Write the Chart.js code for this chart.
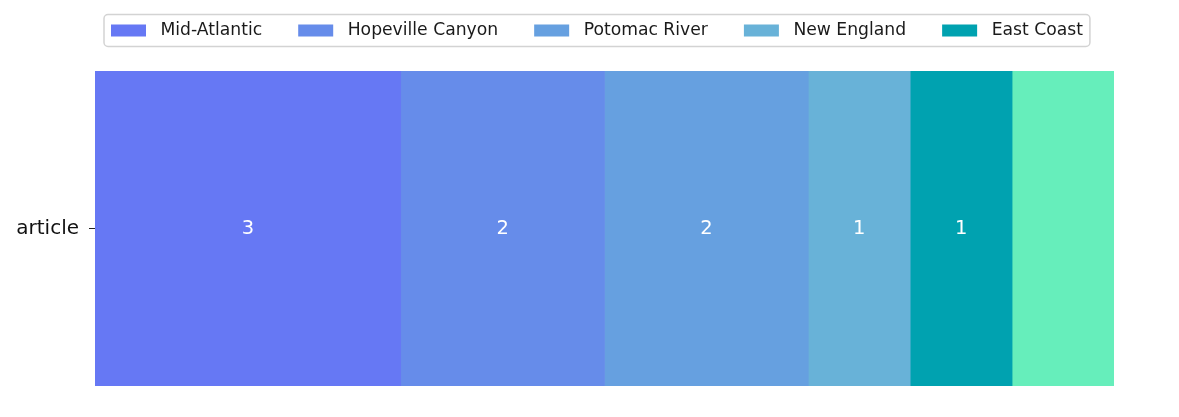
<!DOCTYPE html>
<html>
<head>
<meta charset="utf-8">
<script src="https://cdn.jsdelivr.net/npm/chart.js@4/dist/chart.umd.min.js"></script>
<style>
html,body{margin:0;padding:0;background:#fff;}
#wrap{width:1179px;height:417px;position:relative;}
</style>
</head>
<body>
<div id="wrap"><canvas id="c" width="1179" height="417"></canvas></div>
<script>
const categories = ["article"];
const seriesNames = ["Mid-Atlantic", "Hopeville Canyon", "Potomac River", "New England", "East Coast", ""];
const seriesValues = [3, 2, 2, 1, 1, 1];
const seriesColors = ["#6678F4", "#668CEA", "#66A0E0", "#68B2D8", "#00A2B0", "#66EEBB"];
const showValue = [true, true, true, true, true, false];
const inLegend = [true, true, true, true, true, false];
const xMax = 10;

const FONT = "'DejaVu Sans', sans-serif";

const datasets = seriesNames.map((n, i) => ({
  label: n,
  data: [seriesValues[i]],
  backgroundColor: seriesColors[i],
  borderWidth: 0,
  barPercentage: 1,
  categoryPercentage: 1,
  showValue: showValue[i],
  inLegend: inLegend[i]
}));

const valueLabels = {
  id: 'valueLabels',
  afterDatasetsDraw(chart) {
    const ctx = chart.ctx;
    ctx.save();
    ctx.fillStyle = '#ffffff';
    ctx.font = '19.5px ' + FONT;
    ctx.textAlign = 'center';
    ctx.textBaseline = 'middle';
    chart.data.datasets.forEach((ds, i) => {
      if (!ds.showValue) return;
      const meta = chart.getDatasetMeta(i);
      meta.data.forEach((el, j) => {
        const cx = (el.x + el.base) / 2;
        ctx.fillText(String(ds.data[j]), cx, el.y);
      });
    });
    ctx.restore();
  }
};

const boxLegend = {
  id: 'boxLegend',
  afterDraw(chart) {
    const ctx = chart.ctx;
    ctx.save();
    ctx.font = '17.2px ' + FONT;
    const items = chart.data.datasets.filter(d => d.inLegend);
    const sw = 35, sh = 12, gapSwText = 14.5, gapItem = 36, padL = 7, padR = 7;
    let total = padL + padR;
    items.forEach((d, k) => {
      total += sw + gapSwText + ctx.measureText(d.label).width;
      if (k < items.length - 1) total += gapItem;
    });
    const boxX = 104, boxY = 14.5, boxH = 32;
    const boxW = total;
    ctx.beginPath();
    const r = 4;
    ctx.moveTo(boxX + r, boxY);
    ctx.arcTo(boxX + boxW, boxY, boxX + boxW, boxY + boxH, r);
    ctx.arcTo(boxX + boxW, boxY + boxH, boxX, boxY + boxH, r);
    ctx.arcTo(boxX, boxY + boxH, boxX, boxY, r);
    ctx.arcTo(boxX, boxY, boxX + boxW, boxY, r);
    ctx.closePath();
    ctx.fillStyle = 'rgba(255,255,255,0.8)';
    ctx.fill();
    ctx.strokeStyle = '#d3d3d3';
    ctx.lineWidth = 1.5;
    ctx.stroke();
    let x = boxX + padL;
    const cy = boxY + boxH / 2;
    ctx.textBaseline = 'middle';
    ctx.textAlign = 'left';
    items.forEach(d => {
      ctx.fillStyle = d.backgroundColor;
      ctx.fillRect(x, cy - sh / 2, sw, sh);
      x += sw + gapSwText;
      ctx.fillStyle = '#1a1a1a';
      ctx.fillText(d.label, x, cy + 0.5);
      x += ctx.measureText(d.label).width + gapItem;
    });
    ctx.restore();
  }
};

new Chart(document.getElementById('c'), {
  type: 'bar',
  data: { labels: categories, datasets },
  options: {
    responsive: false,
    animation: false,
    indexAxis: 'y',
    layout: { padding: { top: 71, bottom: 31, right: 65, left: 0 } },
    plugins: { legend: { display: false }, tooltip: { enabled: false } },
    scales: {
      x: { stacked: true, display: false, min: 0, max: xMax },
      y: {
        stacked: true,
        grid: { display: true, drawOnChartArea: false, drawTicks: true, tickLength: 6, offset: false, color: '#222', lineWidth: 1 },
        border: { display: false },
        ticks: { color: '#111', font: { size: 20, family: FONT }, padding: 10 },
        afterFit(scale) { scale.width = 95; }
      }
    }
  },
  plugins: [valueLabels, boxLegend]
});
</script>
</body>
</html>
